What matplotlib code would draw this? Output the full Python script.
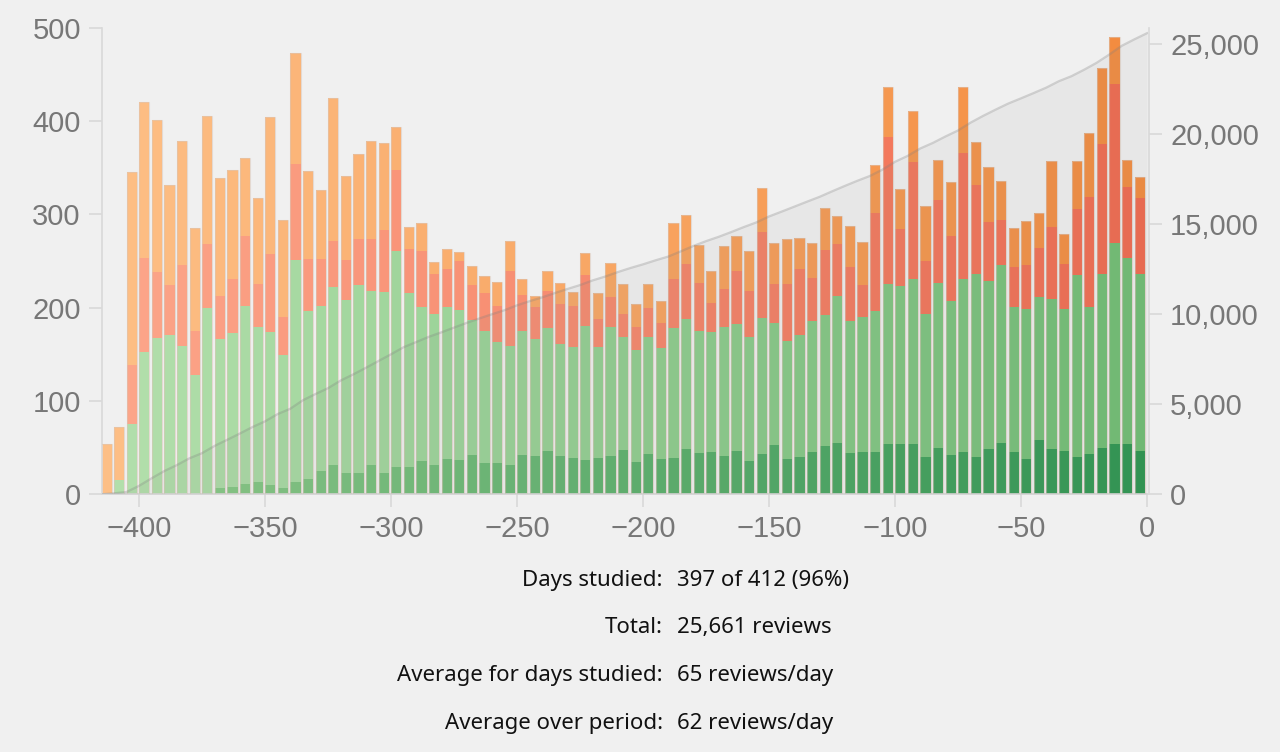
import numpy as np
import matplotlib.pyplot as plt
from matplotlib.ticker import FuncFormatter

plt.rcParams["font.family"] = ["Liberation Sans", "DejaVu Sans"]

# 5-day bins, start day of each bin
bin_start = np.arange(-415, 0, 5)

learn = [54, 57, 206, 167, 163, 107, 132, 110, 137, 127,
         116, 83, 92, 147, 104, 119, 94, 74, 153, 90,
         92, 105, 93, 46, 23, 30, 13, 22, 10, 21,
         18, 25, 32, 18, 11, 21, 22, 15, 23, 28,
         37, 32, 25, 25, 24, 60, 52, 41, 34, 46,
         38, 43, 47, 44, 49, 34, 37, 45, 30, 44,
         46, 52, 53, 43, 55, 59, 43, 58, 70, 46,
         59, 42, 42, 47, 37, 71, 32, 51, 69, 82,
         50, 29, 23]
relearn = [0, 0, 64, 101, 71, 53, 87, 47, 68, 46,
           58, 75, 46, 83, 41, 103, 56, 50, 49, 43,
           49, 55, 66, 86, 47, 60, 43, 40, 53, 37,
           41, 39, 80, 38, 35, 40, 43, 44, 55, 30,
           32, 25, 24, 31, 26, 53, 59, 51, 31, 41,
           57, 49, 92, 41, 61, 70, 46, 70, 56, 57,
           34, 105, 158, 61, 125, 57, 89, 70, 135, 95,
           64, 48, 42, 48, 53, 77, 48, 71, 117, 139,
           171, 76, 81]
young = [0, 15, 75, 152, 167, 171, 159, 128, 199, 159,
         165, 191, 166, 164, 142, 238, 180, 177, 191, 185,
         201, 187, 194, 232, 187, 165, 162, 163, 160, 145,
         141, 129, 128, 133, 125, 132, 120, 119, 143, 119,
         138, 121, 120, 126, 119, 139, 139, 131, 129, 138,
         136, 133, 146, 131, 126, 131, 141, 140, 157, 142,
         145, 151, 171, 169, 177, 153, 176, 165, 186, 196,
         179, 191, 156, 160, 153, 161, 153, 195, 158, 186,
         215, 199, 190]
mature = [0, 0, 0, 0, 0, 0, 0, 0, 1, 7,
          8, 11, 13, 10, 7, 13, 16, 25, 31, 23,
          23, 31, 23, 29, 29, 36, 31, 38, 37, 42,
          34, 34, 31, 42, 41, 46, 41, 39, 37, 39,
          41, 47, 35, 43, 38, 39, 49, 44, 45, 41,
          46, 36, 43, 53, 38, 40, 45, 52, 55, 44,
          45, 45, 54, 54, 54, 40, 50, 42, 45, 40,
          49, 55, 45, 38, 58, 48, 46, 40, 43, 50,
          54, 54, 46]

stat_labels = ["Days studied:", "Total:", "Average for days studied:", "Average over period:"]
stat_values = ["397 of 412 (96%)", "25,661 reviews", "65 reviews/day", "62 reviews/day"]

# colour ramps, oldest bin -> newest bin
ramps = {
    "mature": ("#8fcd8a", "#2c9550"),
    "young": ("#b3dfac", "#6fbd73"),
    "relearn": ("#fca68a", "#f06a4f"),
    "learn": ("#fdbf86", "#f38b3e"),
}


def ramp(name, n):
    a = np.array(plt.matplotlib.colors.to_rgb(ramps[name][0]))
    b = np.array(plt.matplotlib.colors.to_rgb(ramps[name][1]))
    t = np.linspace(0, 1, n)[:, None]
    return a + (b - a) * t


mature = np.array(mature)
young = np.array(young)
relearn = np.array(relearn)
learn = np.array(learn)
totals = mature + young + relearn + learn
n = len(bin_start)

bg = "#f0f0f0"
axis_col = "#d9d9d9"
tick_txt = "#777777"

fig = plt.figure(figsize=(12.8, 7.52), dpi=100, facecolor=bg)
ax = fig.add_axes([0.0793, 0.3427, 0.8186, 0.6207])
ax.set_facecolor("none")

w = 4.05
x = bin_start + 0.05
bottom = np.zeros(n)
for name, vals in [("mature", mature), ("young", young), ("relearn", relearn), ("learn", learn)]:
    ax.bar(x, vals, width=w, bottom=bottom, align="edge", color=ramp(name, n), linewidth=0, zorder=2)
    bottom = bottom + vals
ax.bar(x, totals, width=w, align="edge", facecolor="none",
       edgecolor=(0.86, 0.78, 0.72, 0.55), linewidth=0.8, zorder=3)

ax.set_xlim(-414.9, 0.9)
ax.set_ylim(0, 500)
ax.set_xticks(np.arange(-400, 1, 50))
ax.set_yticks(np.arange(0, 501, 100))

# cumulative total on the right axis
ax2 = ax.twinx()
cum_x = np.concatenate([[bin_start[0]], bin_start + 5])
cum_y = np.concatenate([[0], np.cumsum(totals)])
ax2.fill_between(cum_x, cum_y, color="grey", alpha=0.08, linewidth=0, zorder=1)
ax2.plot(cum_x, cum_y, color="grey", alpha=0.3, linewidth=1.6, zorder=2)
ax2.set_ylim(0, 25933)
ax2.set_yticks(np.arange(0, 25001, 5000))
ax2.yaxis.set_major_formatter(FuncFormatter(lambda v, p: f"{int(v):,}"))

for a in (ax, ax2):
    a.spines["top"].set_visible(False)
    for s in ("left", "right", "bottom"):
        a.spines[s].set_color(axis_col)
        a.spines[s].set_linewidth(1.2)
    a.tick_params(length=9.4, width=1.2, color=axis_col, labelcolor=tick_txt,
                  labelsize=21, pad=5.5)

ax.spines["right"].set_visible(False)
ax2.spines["left"].set_visible(False)
ax2.spines["bottom"].set_visible(False)

# summary table under the chart
ys = [0.2201, 0.1576, 0.0938, 0.0312]
for lab, val, y in zip(stat_labels, stat_values, ys):
    fig.text(0.5177, y, lab, ha="right", va="baseline", fontsize=16,
             family=["Noto Sans", "DejaVu Sans"], color="#111111")
    fig.text(0.5287, y, val, ha="left", va="baseline", fontsize=16,
             family=["Noto Sans", "DejaVu Sans"], color="#111111")

fig.savefig("out.png", dpi=100, facecolor=bg)
